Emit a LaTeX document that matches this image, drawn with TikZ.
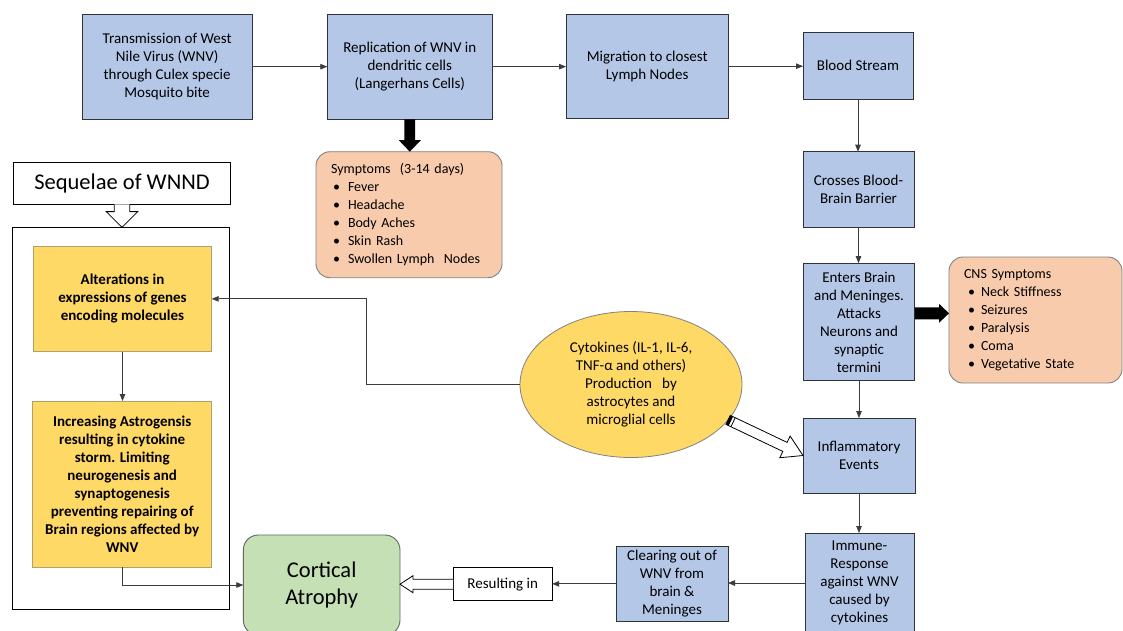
\documentclass[tikz,border=0pt]{standalone}
\usepackage{fontspec}
\setmainfont{Carlito}
\usetikzlibrary{arrows.meta,calc,shapes.geometric}
\definecolor{bfill}{RGB}{180,199,231}
\definecolor{bline}{RGB}{45,50,60}
\definecolor{peach}{RGB}{248,203,173}
\definecolor{pline}{RGB}{130,130,130}
\definecolor{yel}{RGB}{255,217,102}
\definecolor{yline}{RGB}{175,160,110}
\definecolor{grn}{RGB}{197,224,180}
\definecolor{gline}{RGB}{95,105,95}
\definecolor{conn}{RGB}{60,60,60}
\begin{document}
\begin{tikzpicture}[x=1pt,y=-1pt,
  every node/.style={font=\fontsize{15}{18}\selectfont, inner sep=0pt, outer sep=0pt},
  bluebox/.style={draw=bline, fill=bfill, line width=0.9pt, align=center},
  peachbox/.style={draw=pline, fill=peach, line width=0.9pt, rounded corners=14pt, align=left, font=\fontsize{14}{18}\selectfont},
  yelbox/.style={draw=yline, fill=yel, line width=0.9pt, align=center, font=\fontsize{15}{18}\selectfont\bfseries},
  plainbox/.style={draw=black, fill=white, line width=0.8pt, align=center},
  conn/.style={draw=conn, line width=0.8pt, -{Triangle[length=7pt,width=5.5pt]}},
  thickarr/.style={fill=black},
  hollowarr/.style={draw=black, fill=white, line width=0.8pt, line join=miter}
]
\useasboundingbox (0,0) rectangle (1123,630);
\fill[white] (0,0) rectangle (1123,630);
\clip (0,0) rectangle (1123,630);

% top row
\node[bluebox, minimum width=170.3pt, minimum height=105.3pt] (T) at (167.15,66.65)
  {Transmission of West\\Nile Virus (WNV)\\through Culex specie\\Mosquito bite};
\node[bluebox, minimum width=165pt, minimum height=105.3pt] (R) at (409.8,66.65)
  {Replication of WNV in\\dendritic cells\\(Langerhans Cells)};
\node[bluebox, minimum width=162.3pt, minimum height=104.3pt] (M) at (647.2,66.2)
  {Migration to closest\\Lymph Nodes};
\node[bluebox, minimum width=110pt, minimum height=66.7pt] (B) at (858,65.7)
  {Blood Stream};

% right column
\node[bluebox, minimum width=111pt, minimum height=75.6pt] (Cr) at (858.5,189.5)
  {Crosses Blood-\\Brain Barrier};
\node[bluebox, minimum width=111.5pt, minimum height=117.7pt] (En) at (859,322)
  {Enters Brain\\and Meninges.\\Attacks\\Neurons and\\synaptic\\termini};
\node[bluebox, minimum width=112pt, minimum height=75pt] (Inf) at (859,455.5)
  {Inflammatory\\Events};
\node[bluebox, minimum width=109pt, minimum height=100pt] (Im) at (859.5,583)
  {Immune-\\Response\\against WNV\\caused by\\cytokines};

% bottom row
\node[bluebox, minimum width=112pt, minimum height=75.7pt] (Cl) at (672,583.85)
  {Clearing out of\\WNV from\\brain \&\\Meninges};
\node[plainbox, minimum width=99pt, minimum height=33pt] (Res) at (502.7,584.2)
  {Resulting in};
\node[draw=gline, fill=grn, line width=0.9pt, rounded corners=15pt, align=center,
  minimum width=156.7pt, minimum height=100pt,
  font=\fontsize{22.5}{27}\selectfont] (Cort) at (321.65,585)
  {Cortical\\Atrophy};

% symptom boxes
\node[peachbox, minimum width=186pt, minimum height=126pt, text width=156pt] (Sym) at (409,214.7)
  {Symptoms~ (3-14 days)\\
   \hspace*{2pt}\makebox[15pt][l]{\textbullet}Fever\\
   \hspace*{2pt}\makebox[15pt][l]{\textbullet}Headache\\
   \hspace*{2pt}\makebox[15pt][l]{\textbullet}Body Aches\\
   \hspace*{2pt}\makebox[15pt][l]{\textbullet}Skin Rash\\
   \hspace*{2pt}\makebox[15pt][l]{\textbullet}Swollen Lymph~ Nodes};
\node[peachbox, minimum width=173pt, minimum height=126pt, text width=143pt] (CNS) at (1035.5,320)
  {CNS Symptoms\\
   \hspace*{4pt}\makebox[13pt][l]{\textbullet}Neck Stiffness\\
   \hspace*{4pt}\makebox[13pt][l]{\textbullet}Seizures\\
   \hspace*{4pt}\makebox[13pt][l]{\textbullet}Paralysis\\
   \hspace*{4pt}\makebox[13pt][l]{\textbullet}Coma\\
   \hspace*{4pt}\makebox[13pt][l]{\textbullet}Vegetative State};

% cytokine ellipse
\node[ellipse, draw=pline, fill=yel, line width=0.8pt, minimum width=222pt, minimum height=146pt, align=center] (El) at (631,384.5)
  {Cytokines (IL-1, IL-6,\\TNF-α and others)\\Production~~ by\\astrocytes and\\microglial cells};

% sequelae
\node[plainbox, minimum width=217.4pt, minimum height=42pt, font=\fontsize{22.5}{27}\selectfont] (Seq) at (122,183.3)
  {Sequelae of WNND};
\node[draw=black, line width=0.8pt, minimum width=217pt, minimum height=382pt] (Cont) at (120.8,418.3) {};
\node[yelbox, minimum width=178.4pt, minimum height=105.7pt] (Y1) at (122.5,298.85)
  {Alterations in\\expressions of genes\\encoding molecules};
\node[yelbox, minimum width=179pt, minimum height=166.3pt] (Y2) at (122.2,484.15)
  {Increasing Astrogensis\\resulting in cytokine\\storm. Limiting\\neurogenesis and\\synaptogenesis\\preventing repairing of\\Brain regions affected by\\WNV};

% thin connectors
\draw[conn] (T.east) -- (R.west);
\draw[conn] (R.east) -- (R.east -| M.west);
\draw[conn] (M.east) -- (M.east -| B.west);
\draw[conn] (B.south) -- (B.south |- Cr.north);
\draw[conn] (Cr.south) -- (Cr.south |- En.north);
\draw[conn] (En.south) -- (En.south |- Inf.north);
\draw[conn] (Inf.south) -- (Inf.south |- Im.north);
\draw[conn] (Im.west) -- (Im.west -| Cl.east);
\draw[conn] (Cl.west) -- (Cl.west -| Res.east);
\draw[conn] (El.west) -- ++(-153.3,0) |- (Y1.east);
\draw[conn] (Y1.south) -- (Y1.south |- Y2.north);
\draw[conn] (Y2.south) |- (Cort.west);

% thick black arrows
\coordinate (t1) at (R.south |- Sym.north);
\fill[thickarr] ($(R.south)+(-5.4,0)$) -- ($(t1)+(-5.4,-11.5)$) -- ($(t1)+(-11,-11.5)$) -- (t1)
  -- ($(t1)+(11,-11.5)$) -- ($(t1)+(5.4,-11.5)$) -- ($(R.south)+(5.4,0)$) -- cycle;
\coordinate (eA) at ($(En.east)+(0,-8.7)$);
\coordinate (eT) at (CNS.west |- eA);
\fill[thickarr] ($(eA)+(0,-6)$) -- ($(eT)+(-10,-6)$) -- ($(eT)+(-10,-9.5)$) -- (eT)
  -- ($(eT)+(-10,9.5)$) -- ($(eT)+(-10,6)$) -- ($(eA)+(0,6)$) -- cycle;

% hollow arrows
\coordinate (sT) at (Seq.south |- Cont.north);
\draw[hollowarr] ($(Seq.south)+(-7.8,0)$) -- ($(sT)+(-7.8,-15.7)$) -- ($(sT)+(-15.8,-15.7)$) -- (sT)
  -- ($(sT)+(15.8,-15.7)$) -- ($(sT)+(7.8,-15.7)$) -- ($(Seq.south)+(7.8,0)$);
\coordinate (cT) at (Cort.east |- Res.west);
\draw[hollowarr] ($(Res.west)+(0,-5)$) -- ($(cT)+(13,-5)$) -- ($(cT)+(13,-8.5)$) -- (cT)
  -- ($(cT)+(13,8.5)$) -- ($(cT)+(13,5)$) -- ($(Res.west)+(0,5)$);
\draw[hollowarr] let \p1=($(Inf.west)-(El.-20)$), \n1={atan2(\y1,\x1)} in
  (Inf.west) -- ($(Inf.west)+(\n1+180:20pt)+(\n1+90:12pt)$)
  -- ($(Inf.west)+(\n1+180:20pt)+(\n1+90:5pt)$)
  -- ($(El.-20)+(\n1+90:5pt)$) -- ($(El.-20)+(\n1-90:5pt)$)
  -- ($(Inf.west)+(\n1+180:20pt)+(\n1-90:5pt)$)
  -- ($(Inf.west)+(\n1+180:20pt)+(\n1-90:12pt)$) -- cycle;
\fill[black] let \p1=($(Inf.west)-(El.-20)$), \n1={atan2(\y1,\x1)} in
  ($(El.-20)+(\n1+90:5pt)$) -- ($(El.-20)+(\n1-90:5pt)$)
  -- ($(El.-20)+(\n1:3pt)+(\n1-90:5pt)$) -- ($(El.-20)+(\n1:3pt)+(\n1+90:5pt)$) -- cycle;
\draw[black, line width=0.8pt] let \p1=($(Inf.west)-(El.-20)$), \n1={atan2(\y1,\x1)} in
  ($(El.-20)+(\n1:5.5pt)+(\n1+90:5pt)$) -- ($(El.-20)+(\n1:5.5pt)+(\n1-90:5pt)$);
\end{tikzpicture}
\end{document}
